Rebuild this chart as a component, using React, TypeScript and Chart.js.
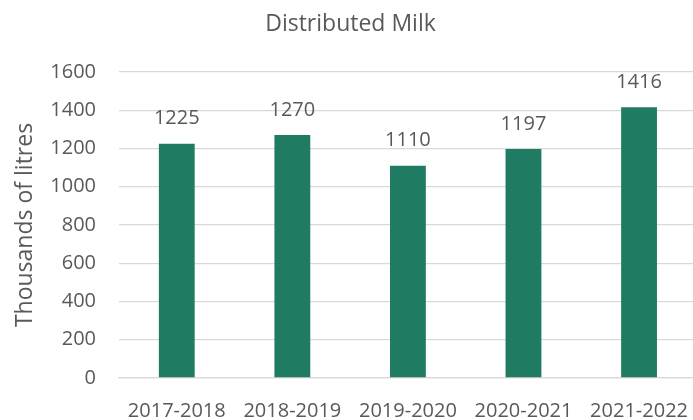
import React, { useEffect, useRef } from "react";
import { Chart, registerables } from "chart.js";

Chart.register(...registerables);

const categories = ["2017-2018", "2018-2019", "2019-2020", "2020-2021", "2021-2022"];
const milkValues = [1225, 1270, 1110, 1197, 1416];
const chartTitle = "Distributed Milk";
const yAxisTitle = "Thousands of litres";

const FONT = "'Open Sans', 'DejaVu Sans', sans-serif";
const TEXT = "#595959";
const GRID = "#D9D9D9";
const BAR = "#1F7B62";

const dataLabels = {
  id: "dataLabels",
  afterDatasetsDraw(chart: any) {
    const ctx = chart.ctx;
    const meta = chart.getDatasetMeta(0);
    ctx.save();
    ctx.font = `20px ${FONT}`;
    ctx.fillStyle = TEXT;
    ctx.textAlign = "center";
    ctx.textBaseline = "middle";
    meta.data.forEach((bar: any, i: number) => {
      ctx.fillText(String(milkValues[i]), bar.x, bar.y - 25);
    });
    ctx.restore();
  },
};

export default function App() {
  const ref = useRef<HTMLCanvasElement | null>(null);
  useEffect(() => {
    if (!ref.current) return;
    const chart = new Chart(ref.current, {
      type: "bar",
      data: {
        labels: categories,
        datasets: [
          {
            data: milkValues,
            backgroundColor: BAR,
            barPercentage: 0.31,
            categoryPercentage: 1,
          },
        ],
      },
      options: {
        responsive: false,
        animation: false,
        devicePixelRatio: 1,
        layout: { padding: 0 },
        plugins: {
          legend: { display: false },
          tooltip: { enabled: false },
          title: {
            display: true,
            text: chartTitle,
            color: TEXT,
            font: { family: FONT, size: 23, weight: "normal", lineHeight: 1.2 },
            padding: { top: 10.7, bottom: 33.7 },
          },
        },
        scales: {
          x: {
            grid: { display: false },
            border: { display: true, color: GRID, width: 1.3 },
            ticks: {
              color: TEXT,
              font: { family: FONT, size: 20 },
              padding: 13,
              maxRotation: 0,
              autoSkip: false,
            },
            afterFit(scale: any) {
              scale.height = 42;
            },
          },
          y: {
            min: 0,
            max: 1600,
            grid: { color: GRID, lineWidth: 1.3, drawTicks: false },
            border: { display: false },
            ticks: {
              stepSize: 200,
              color: TEXT,
              font: { family: FONT, size: 20 },
              padding: 23,
              callback: (v: any) => String(v),
            },
            title: {
              display: true,
              text: yAxisTitle,
              color: TEXT,
              font: { family: FONT, size: 23, lineHeight: 1.2 },
              padding: { top: 11.7, bottom: 0 },
            },
            afterFit(scale: any) {
              scale.width = 119;
            },
          },
        },
      },
      plugins: [dataLabels],
    });
    return () => chart.destroy();
  }, []);

  return (
    <div
      style={{
        position: "fixed",
        left: 0,
        top: 0,
        width: 693,
        height: 420,
        overflow: "hidden",
        background: "#fff",
      }}
    >
      <canvas ref={ref} width={701} height={420} style={{ display: "block" }} />
    </div>
  );
}
